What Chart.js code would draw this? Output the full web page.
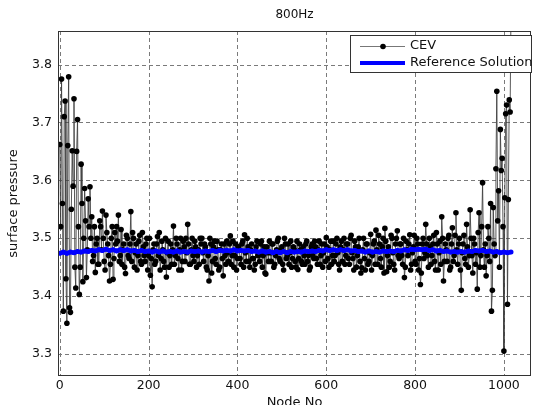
<!DOCTYPE html>
<html>
<head>
<meta charset="utf-8">
<script src="https://cdn.jsdelivr.net/npm/chart.js@4.4.1/dist/chart.umd.min.js"></script>
<style>
  html, body { margin: 0; padding: 0; background: #fff; }
  canvas { display: block; }
</style>
</head>
<body>
<canvas id="grafico" width="539" height="405"></canvas>
<script>
// Ticks de los ejes
const xTicks = [0, 200, 400, 600, 800, 1000];
const yTicks = [3.3, 3.4, 3.5, 3.6, 3.7, 3.8];

// CEV en nodos pares multiplos de 4 (0, 4, 8 ... 1016)
const cevValues = [
  3.662, 3.775, 3.374, 3.737, 3.353, 3.779, 3.372, 3.651, 3.741, 3.414, 3.705, 3.403, 3.628, 3.425, 3.586, 3.432,
  3.568, 3.589, 3.537, 3.470, 3.441, 3.500, 3.455, 3.520, 3.547, 3.460, 3.540, 3.490, 3.426, 3.500, 3.429, 3.510,
  3.520, 3.540, 3.470, 3.455, 3.490, 3.439, 3.500, 3.465, 3.546, 3.510, 3.450, 3.490, 3.470, 3.505, 3.455, 3.485,
  3.460, 3.500, 3.470, 3.436, 3.416, 3.490, 3.460, 3.503, 3.510, 3.465, 3.480, 3.450, 3.433, 3.495, 3.470, 3.455,
  3.521, 3.470, 3.490, 3.445, 3.500, 3.460, 3.485, 3.500, 3.524, 3.455, 3.480, 3.470, 3.495, 3.450, 3.480, 3.500,
  3.500, 3.460, 3.485, 3.445, 3.426, 3.490, 3.460, 3.495, 3.455, 3.480, 3.450, 3.490, 3.435, 3.470, 3.495, 3.460,
  3.504, 3.470, 3.450, 3.490, 3.465, 3.480, 3.455, 3.495, 3.506, 3.460, 3.485, 3.450, 3.490, 3.465, 3.455, 3.495,
  3.470, 3.490, 3.450, 3.485, 3.438, 3.475, 3.495, 3.460, 3.490, 3.455, 3.480, 3.500, 3.460, 3.485, 3.445, 3.490,
  3.470, 3.455, 3.495, 3.465, 3.480, 3.450, 3.446, 3.490, 3.460, 3.485, 3.455, 3.495, 3.470, 3.450, 3.490, 3.465,
  3.485, 3.455, 3.495, 3.470, 3.450, 3.490, 3.501, 3.465, 3.480, 3.455, 3.495, 3.470, 3.500, 3.455, 3.485, 3.460,
  3.500, 3.470, 3.490, 3.455, 3.505, 3.465, 3.495, 3.450, 3.485, 3.460, 3.449, 3.500, 3.445, 3.490, 3.460, 3.507,
  3.470, 3.495, 3.514, 3.455, 3.490, 3.450, 3.500, 3.517, 3.442, 3.485, 3.460, 3.500, 3.455, 3.490, 3.513, 3.465,
  3.490, 3.455, 3.432, 3.495, 3.470, 3.506, 3.455, 3.485, 3.460, 3.500, 3.445, 3.420, 3.490, 3.465, 3.524, 3.470,
  3.500, 3.455, 3.490, 3.460, 3.510, 3.445, 3.495, 3.537, 3.426, 3.490, 3.460, 3.505, 3.450, 3.518, 3.470, 3.544,
  3.455, 3.500, 3.410, 3.490, 3.465, 3.524, 3.450, 3.549, 3.470, 3.500, 3.455, 3.412, 3.544, 3.470, 3.596, 3.450,
  3.435, 3.520, 3.460, 3.374, 3.553, 3.470, 3.754, 3.582, 3.688, 3.638, 3.305, 3.715, 3.386, 3.739, 3.900
];

// CEV en los nodos intermedios (2, 6, 10 ... 1014)
const cevValuesMid = [
  3.520, 3.560, 3.710, 3.430, 3.660, 3.380, 3.550, 3.590, 3.450, 3.650, 3.520, 3.450, 3.560, 3.500, 3.530, 3.480,
  3.520, 3.500, 3.460, 3.520, 3.490, 3.455, 3.530, 3.480, 3.500, 3.445, 3.510, 3.470, 3.455, 3.520, 3.465, 3.490,
  3.495, 3.460, 3.515, 3.480, 3.450, 3.505, 3.470, 3.490, 3.460, 3.500, 3.475, 3.445, 3.495, 3.460, 3.510, 3.470,
  3.490, 3.445, 3.500, 3.465, 3.480, 3.455, 3.490, 3.470, 3.445, 3.495, 3.460, 3.500, 3.475, 3.450, 3.490, 3.480,
  3.455, 3.500, 3.465, 3.480, 3.445, 3.495, 3.460, 3.475, 3.490, 3.455, 3.500, 3.460, 3.485, 3.470, 3.455, 3.490,
  3.475, 3.490, 3.450, 3.470, 3.500, 3.440, 3.485, 3.465, 3.495, 3.445, 3.480, 3.465, 3.490, 3.455, 3.475, 3.490,
  3.455, 3.495, 3.470, 3.445, 3.485, 3.465, 3.490, 3.450, 3.475, 3.500, 3.460, 3.480, 3.465, 3.445, 3.485, 3.470,
  3.460, 3.495, 3.470, 3.440, 3.485, 3.460, 3.475, 3.490, 3.450, 3.470, 3.495, 3.465, 3.480, 3.455, 3.500, 3.465,
  3.490, 3.475, 3.450, 3.485, 3.460, 3.495, 3.465, 3.480, 3.455, 3.470, 3.490, 3.460, 3.445, 3.485, 3.470, 3.495,
  3.465, 3.480, 3.455, 3.490, 3.475, 3.460, 3.485, 3.450, 3.495, 3.470, 3.460, 3.490, 3.475, 3.445, 3.495, 3.480,
  3.455, 3.490, 3.465, 3.500, 3.475, 3.445, 3.485, 3.470, 3.500, 3.440, 3.480, 3.465, 3.490, 3.455, 3.475, 3.445,
  3.490, 3.455, 3.480, 3.505, 3.465, 3.485, 3.440, 3.495, 3.470, 3.450, 3.505, 3.475, 3.445, 3.500, 3.470, 3.490,
  3.470, 3.500, 3.450, 3.480, 3.490, 3.445, 3.475, 3.505, 3.455, 3.490, 3.465, 3.440, 3.500, 3.475, 3.490, 3.450,
  3.485, 3.470, 3.505, 3.445, 3.490, 3.475, 3.455, 3.500, 3.460, 3.480, 3.500, 3.445, 3.490, 3.460, 3.505, 3.480,
  3.490, 3.445, 3.475, 3.505, 3.455, 3.485, 3.470, 3.500, 3.440, 3.490, 3.475, 3.510, 3.450, 3.520, 3.480, 3.490,
  3.470, 3.500, 3.560, 3.410, 3.490, 3.620, 3.530, 3.450, 3.617, 3.520, 3.570, 3.730, 3.567, 3.718
];

// Solucion de referencia, nodos cada 8
const refStep = 8;
const refValues = [
  3.474, 3.476, 3.474, 3.476, 3.475, 3.477, 3.476, 3.478,
  3.477, 3.479, 3.478, 3.480, 3.479, 3.481, 3.479, 3.480,
  3.478, 3.480, 3.479, 3.480, 3.478, 3.479, 3.477, 3.479,
  3.477, 3.478, 3.476, 3.478, 3.476, 3.478, 3.476, 3.477,
  3.476, 3.478, 3.476, 3.477, 3.476, 3.478, 3.477, 3.478,
  3.476, 3.478, 3.477, 3.479, 3.477, 3.479, 3.478, 3.479,
  3.478, 3.480, 3.478, 3.479, 3.478, 3.479, 3.477, 3.478,
  3.476, 3.478, 3.476, 3.477, 3.475, 3.477, 3.475, 3.477,
  3.475, 3.477, 3.476, 3.477, 3.476, 3.478, 3.477, 3.478,
  3.477, 3.479, 3.478, 3.480, 3.479, 3.480, 3.479, 3.480,
  3.479, 3.480, 3.478, 3.479, 3.477, 3.478, 3.476, 3.478,
  3.476, 3.477, 3.476, 3.478, 3.477, 3.478, 3.477, 3.479,
  3.478, 3.480, 3.479, 3.481, 3.480, 3.481, 3.480, 3.481,
  3.479, 3.480, 3.478, 3.479, 3.477, 3.478, 3.476, 3.477,
  3.476, 3.477, 3.476, 3.478, 3.477, 3.479, 3.478, 3.479,
  3.477, 3.478, 3.476, 3.477, 3.475, 3.476, 3.475, 3.476
];

// Juntar las dos listas en orden de nodo (0, 2, 4, ...)
const cevPuntos = [];
cevValues.forEach((v, i) => {
  cevPuntos.push({ x: i * 4, y: v });
  if (i < cevValuesMid.length) cevPuntos.push({ x: i * 4 + 2, y: cevValuesMid[i] });
});

const FUENTE = '"DejaVu Sans", sans-serif';

// Rejilla discontinua tipo MATLAB (debajo de los datos)
const rejilla = {
  id: 'rejilla',
  beforeDatasetsDraw(chart) {
    const { ctx, chartArea: a, scales } = chart;
    ctx.save();
    ctx.strokeStyle = '#7a7a7a';
    ctx.lineWidth = 1;
    ctx.setLineDash([4, 3]);
    xTicks.forEach(v => {
      const x = Math.round(scales.x.getPixelForValue(v)) + 0.5;
      ctx.beginPath(); ctx.moveTo(x, a.top); ctx.lineTo(x, a.bottom); ctx.stroke();
    });
    yTicks.forEach(v => {
      const y = Math.round(scales.y.getPixelForValue(v)) + 0.5;
      ctx.beginPath(); ctx.moveTo(a.left, y); ctx.lineTo(a.right, y); ctx.stroke();
    });
    ctx.restore();
  }
};

// Titulo, etiquetas de ejes, marco y leyenda dibujados a mano
const decoracion = {
  id: 'decoracion',
  afterDraw(chart) {
    const { ctx, chartArea: a } = chart;
    ctx.save();
    // marco
    ctx.strokeStyle = '#333';
    ctx.lineWidth = 1;
    ctx.strokeRect(Math.round(a.left) + 0.5, Math.round(a.top) + 0.5,
                   Math.round(a.right - a.left) - 1, Math.round(a.bottom - a.top) - 1);

    ctx.fillStyle = '#111';
    ctx.textAlign = 'center';
    ctx.textBaseline = 'middle';
    ctx.font = '12px ' + FUENTE;
    ctx.fillText('800Hz', (a.left + a.right) / 2, 15);

    ctx.font = '13px ' + FUENTE;
    ctx.textBaseline = 'alphabetic';
    ctx.fillText('Node No', (a.left + a.right) / 2, 406);

    ctx.save();
    ctx.translate(17, (a.top + a.bottom) / 2);
    ctx.rotate(-Math.PI / 2);
    ctx.fillText('surface pressure', 0, 0);
    ctx.restore();

    // leyenda
    const lx = 350, ly = 35, lw = 182, lh = 38;
    ctx.fillStyle = '#fff';
    ctx.fillRect(lx, ly, lw, lh);
    ctx.strokeStyle = '#333';
    ctx.strokeRect(lx + 0.5, ly + 0.5, lw - 1, lh - 1);

    ctx.strokeStyle = '#777';
    ctx.lineWidth = 1;
    ctx.beginPath();
    ctx.moveTo(360, 46.5); ctx.lineTo(405, 46.5);
    ctx.stroke();
    ctx.fillStyle = '#000';
    ctx.beginPath();
    ctx.arc(383, 46.5, 2.8, 0, Math.PI * 2);
    ctx.fill();

    ctx.strokeStyle = '#0000ff';
    ctx.lineWidth = 4;
    ctx.beginPath();
    ctx.moveTo(360, 63); ctx.lineTo(405, 63);
    ctx.stroke();

    ctx.fillStyle = '#111';
    ctx.textAlign = 'left';
    ctx.textBaseline = 'middle';
    ctx.font = '13px ' + FUENTE;
    ctx.fillText('CEV', 410, 46);
    ctx.fillText('Reference Solution', 410, 63);
    ctx.restore();
  }
};

const ctx = document.getElementById('grafico').getContext('2d');

new Chart(ctx, {
  type: 'line',
  data: {
    datasets: [
      {
        label: 'Reference Solution',
        data: refValues.map((v, i) => ({ x: i * refStep, y: v })),
        borderColor: '#0000ff',
        backgroundColor: '#0000ff',
        borderWidth: 4.5,
        pointRadius: 2.5,
        pointBorderWidth: 0,
        tension: 0,
        order: 0
      },
      {
        label: 'CEV',
        data: cevPuntos,
        borderColor: 'rgba(60,60,60,0.85)',
        borderWidth: 1,
        pointRadius: 2.8,
        pointBorderWidth: 0,
        pointBackgroundColor: '#000',
        tension: 0,
        order: 1
      }
    ]
  },
  options: {
    responsive: false,
    animation: false,
    layout: { padding: { top: 31, right: 8, left: 0, bottom: 0 } },
    plugins: {
      legend: { display: false },
      title: { display: false },
      tooltip: { enabled: false }
    },
    scales: {
      x: {
        type: 'linear',
        min: -4,
        max: 1061,
        afterBuildTicks: (s) => { s.ticks = xTicks.map(v => ({ value: v })); },
        afterFit: (s) => { s.height = 29; },
        ticks: {
          padding: 2,
          color: '#111',
          font: { family: FUENTE, size: 12.5 },
          callback: (v) => String(v)
        },
        grid: { display: false, drawTicks: false },
        border: { display: false }
      },
      y: {
        min: 3.262,
        max: 3.858,
        afterBuildTicks: (s) => { s.ticks = yTicks.map(v => ({ value: v })); },
        afterFit: (s) => { s.width = 58; },
        ticks: {
          padding: 6,
          color: '#111',
          font: { family: FUENTE, size: 12.5 },
          callback: (v) => Number(v).toFixed(1)
        },
        grid: { display: false, drawTicks: false },
        border: { display: false }
      }
    }
  },
  plugins: [rejilla, decoracion]
});
</script>
</body>
</html>
